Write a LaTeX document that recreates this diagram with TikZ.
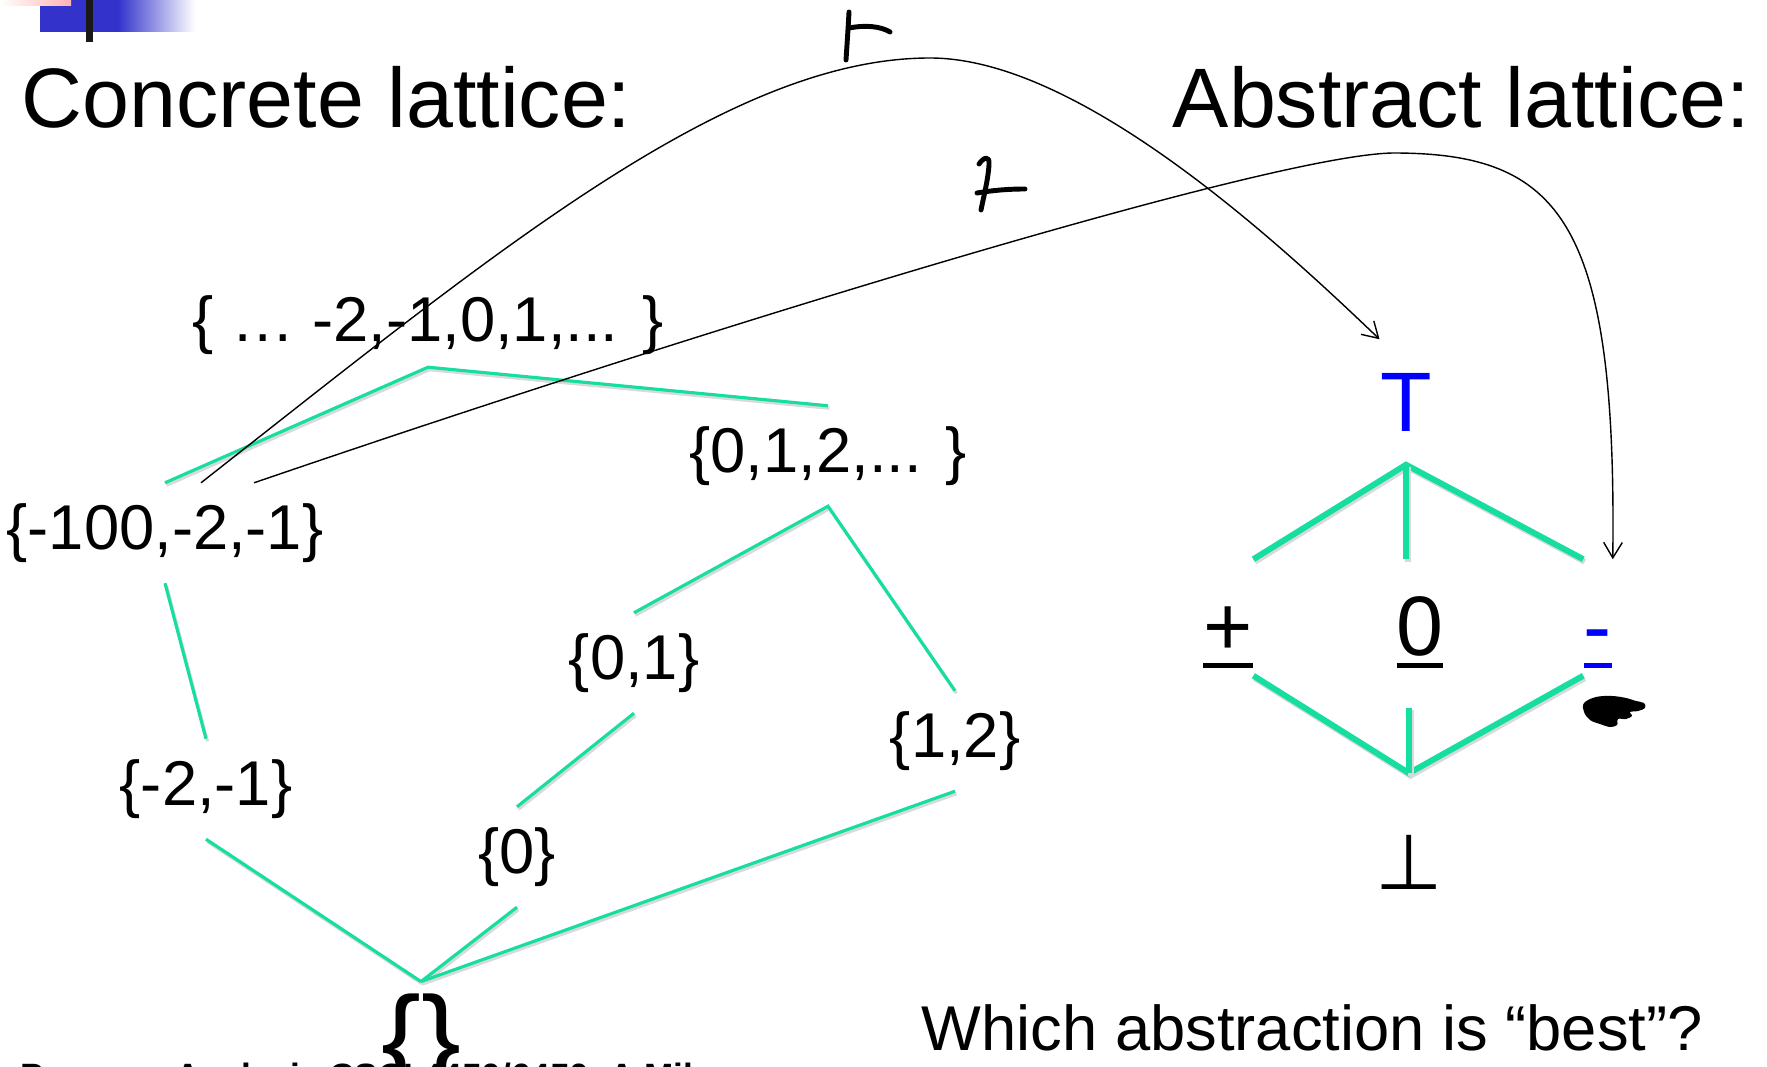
\documentclass[tikz,border=0pt]{standalone}
\usepackage{fontspec}
\setmainfont{Liberation Sans}
\newfontfamily\symfont{DejaVu Sans}
\usetikzlibrary{arrows.meta}
\definecolor{latgreen}{RGB}{22,222,160}
\definecolor{slideblue}{RGB}{51,51,204}
\definecolor{absblue}{RGB}{0,0,255}
% underlined abstract value
\newcommand{\undr}[1]{\setbox0=\hbox{#1}\rlap{\copy0}\rule[-3.7pt]{\wd0}{1.4pt}}

\begin{document}
\begin{tikzpicture}[x=0.01cm, y=-0.01cm,
  heading/.style={font=\fontsize{24}{28}\selectfont, anchor=base west, inner sep=0pt},
  setnode/.style={font=\fontsize{18}{21}\selectfont, inner xsep=0pt, inner ysep=0.2cm},
  absval/.style={font=\fontsize{24}{28}\selectfont, anchor=base, inner sep=0pt,
                 text height=0.95cm, text depth=0.2cm},
  lat/.style={draw=latgreen, line width=#1,
              preaction={draw=black!15, line width=#1, transform canvas={shift={(1.5,2.5)}}}},
  lat/.default=0.9pt,
  galois/.style={line width=0.4pt, -{Straight Barb[length=4.4pt, width=5.3pt]}},
  ink/.style={line width=1.4pt, line cap=round, line join=round}
]
  \useasboundingbox (0,0) rectangle (1767,1067);

  % slide decoration
  \fill[slideblue] (40,0) rectangle (118,32);
  \shade[left color=slideblue, right color=white] (118,0) rectangle (195,32);
  \shade[left color=white, right color=red!30] (0,0) rectangle (71,6);
  \fill[black!90] (86,0) rectangle (93,42);

  \node[heading] (conc) at (21,128) {Concrete lattice:};
  \node[heading] (abst) at (1172,128) {Abstract lattice:};

  % concrete lattice
  \node[setnode, inner ysep=0.12cm] (all) at (428,325) {\{ … -2,-1,0,1,... \}};
  \node[setnode] (nat) at (828,456) {\{0,1,2,... \}};
  \node[setnode] (neg3) at (165,533) {\{-100,-2,-1\}};
  \node[setnode] (zo) at (634,663) {\{0,1\}};
  \node[setnode] (ot) at (955,741) {\{1,2\}};
  \node[setnode] (neg2) at (206,789) {\{-2,-1\}};
  \node[setnode] (zero) at (517,857) {\{0\}};
  \node[setnode, font=\fontsize{34}{38}\selectfont, inner ysep=0.12cm] (empty) at (421,1050) {\{\}};

  \draw[lat] (neg3.north) -- (all.south) -- (nat.north);
  \draw[lat] (zo.north) -- (nat.south) -- (ot.north);
  \draw[lat] (neg3.south) -- (neg2.north);
  \draw[lat] (zo.south) -- (zero.north);
  \draw[lat] (neg2.south) -- (empty.north);
  \draw[lat] (zero.south) -- (empty.north);
  \draw[lat] (ot.south) -- (empty.north);

  % abstract lattice
  \node[font=\fontsize{24}{28}\selectfont, text=absblue, inner xsep=0pt, inner ysep=0.33cm] (top) at (1406,402) {T};
  \node[absval] (pos) at (1228,655) {\undr{+}};
  \node[absval] (zer) at (1420,655) {\undr{0}};
  \node[absval, text=absblue] (neg) at (1598,655) {\undr{-}};
  \node[font=\symfont\fontsize{22}{26}\selectfont, inner ysep=0.61cm] (bot) at (1409,862) {⊥};

  \draw[lat=1.7pt] (pos.north east) -- (top.south) -- (neg.north west);
  \draw[lat=1.7pt] (top.south) -- (top.south |- zer.north);
  \draw[lat=1.7pt] (pos.south east) -- (bot.north) -- (neg.south west);
  \draw[lat=1.7pt, shorten <=0.32cm] (bot.north |- zer.south) -- (bot.north);

  % abstraction arrows
  \draw[galois] ([xshift=0.36cm]neg3.north) .. controls (501,247) and (730,58) .. (930,58)
    .. controls (1080,58) and (1280,244) .. (top.north west);
  \draw[galois] ([xshift=0.89cm]neg3.north) .. controls (700,330) and (1270,155) .. (1393,153)
    .. controls (1560,153) and (1617,220) .. (neg.north east);

  % hand-written marks
  \draw[ink] (849,12) .. controls (848,30) and (847,45) .. (846,60);
  \draw[ink] (849,28) .. controls (865,25) and (880,26) .. (890,32);
  \draw[ink] (979,164) .. controls (983,158) and (990,154) .. (989,165)
    .. controls (988,180) and (984,195) .. (981,210);
  \draw[ink] (977,193) .. controls (995,190) and (1010,189) .. (1025,189);
  \fill plot[smooth cycle, tension=0.6] coordinates {(1584,703) (1596,697) (1612,696) (1626,698)
    (1636,701) (1644,703) (1645,708) (1638,711) (1630,712) (1632,716) (1626,719) (1618,719)
    (1617,725) (1610,727) (1600,724) (1590,720) (1584,712)};

  \node[font=\fontsize{18}{21}\selectfont, anchor=base west, inner sep=0pt] (quest) at (921,1050)
    {Which abstraction is “best”?};
  \node[font=\bfseries\fontsize{10}{12}\selectfont, anchor=base west, inner sep=0pt] (foot) at (20,1088)
    {Program Analysis CSCI 4450/6450, A Milanova};
\end{tikzpicture}
\end{document}
